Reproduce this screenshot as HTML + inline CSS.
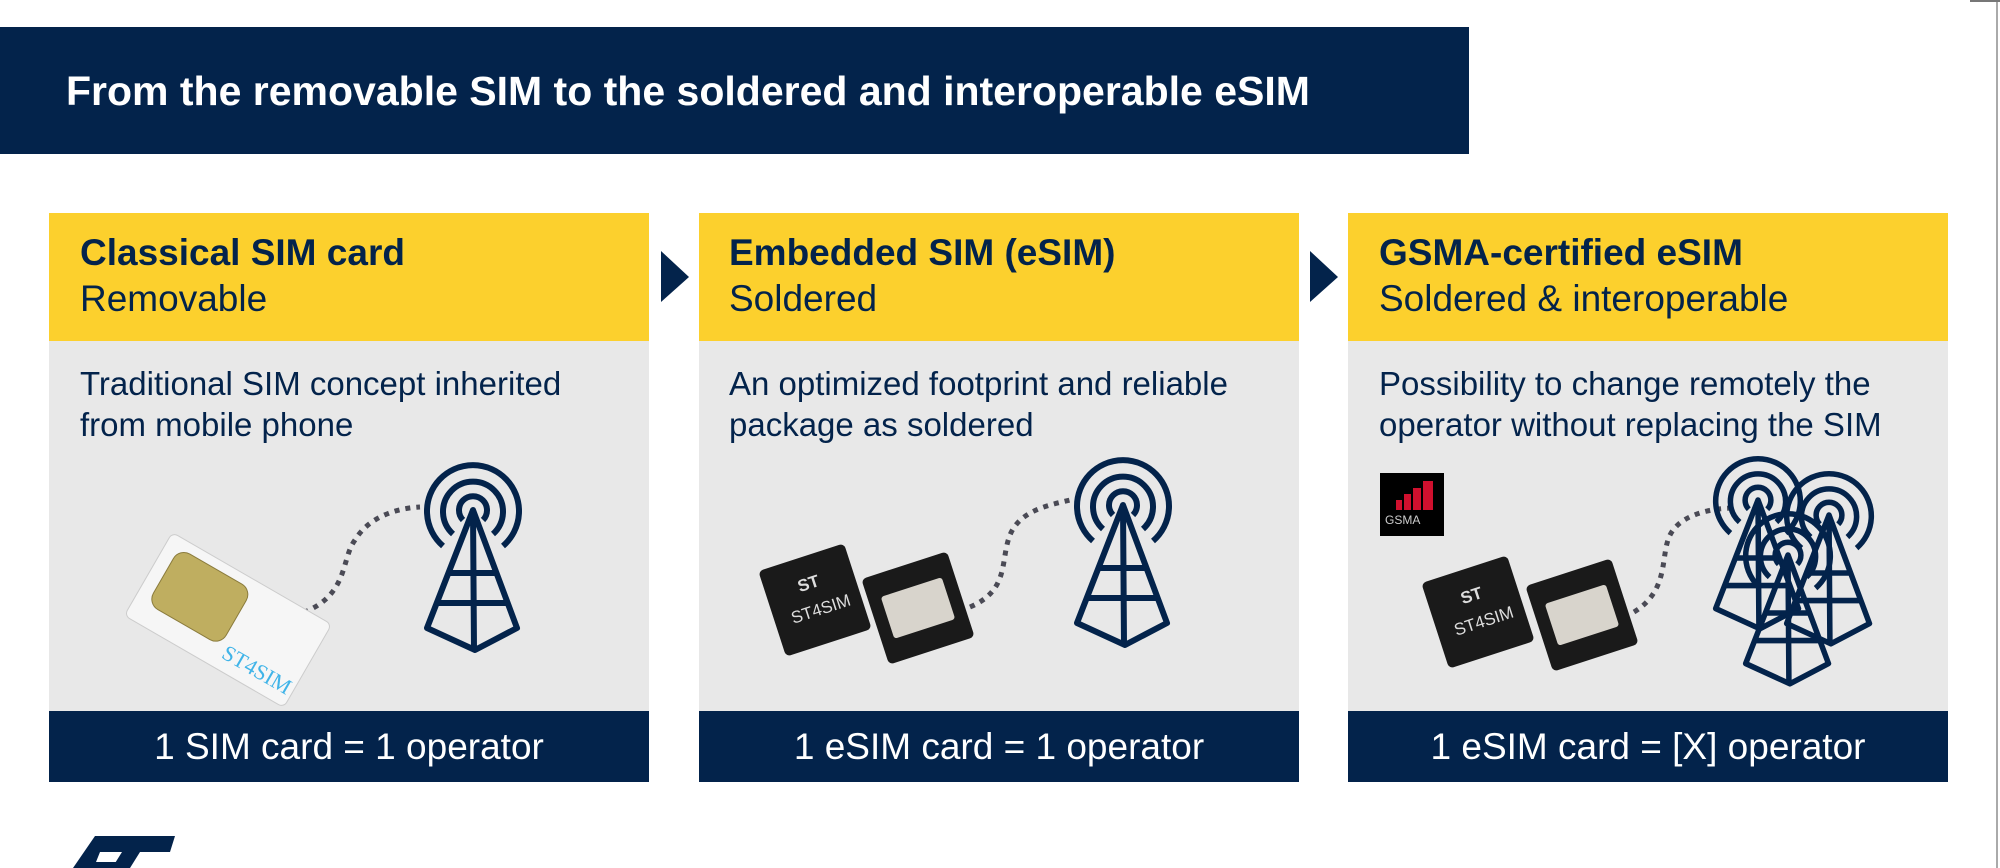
<!DOCTYPE html>
<html><head><meta charset="utf-8"><style>
html,body{margin:0;padding:0;width:2000px;height:868px;overflow:hidden;background:#fff;font-family:"Liberation Sans",Arial,sans-serif}
.abs{position:absolute}
.hdr{left:0;top:27px;width:1469px;height:127px;background:#03234b}
.ttl{left:66px;top:68px;color:#fff;font-weight:bold;font-size:41px;white-space:nowrap}
.y{background:#fcd02d;height:128px;top:213px;width:600px}
.g{background:#e8e8e8;top:341px;height:370px;width:600px}
.f{background:#03234b;top:711px;height:71px;width:600px;color:#fff;font-size:37px;text-align:center;line-height:71px}
.h{color:#03234b;font-size:37px;line-height:46px;white-space:nowrap}
.b{color:#03234b;font-size:33px;line-height:41px;white-space:nowrap}
</style></head><body>
<div class="abs hdr"></div>
<div class="abs ttl">From the removable SIM to the soldered and interoperable eSIM</div>
<div class="abs" style="left:1996px;top:0;width:2px;height:868px;background:#aaa"></div>
<div class="abs" style="left:1970px;top:0;width:30px;height:2px;background:#777"></div>

<div class="abs y" style="left:49px"></div><div class="abs g" style="left:49px"></div><div class="abs f" style="left:49px">1 SIM card = 1 operator</div>
<div class="abs y" style="left:699px"></div><div class="abs g" style="left:699px"></div><div class="abs f" style="left:699px">1 eSIM card = 1 operator</div>
<div class="abs y" style="left:1348px"></div><div class="abs g" style="left:1348px"></div><div class="abs f" style="left:1348px">1 eSIM card = [X] operator</div>

<div class="abs h" style="left:80px;top:230px"><b>Classical SIM card</b><br>Removable</div>
<div class="abs h" style="left:729px;top:230px"><b>Embedded SIM (eSIM)</b><br>Soldered</div>
<div class="abs h" style="left:1379px;top:230px"><b>GSMA-certified eSIM</b><br>Soldered &amp; interoperable</div>

<div class="abs b" style="left:80px;top:363px">Traditional SIM concept inherited<br>from mobile phone</div>
<div class="abs b" style="left:729px;top:363px">An optimized footprint and reliable<br>package as soldered</div>
<div class="abs b" style="left:1379px;top:363px">Possibility to change remotely the<br>operator without replacing the SIM</div>

<svg class="abs" style="left:0;top:0" width="2000" height="868" viewBox="0 0 2000 868">
<defs>
<g id="tw" fill="none" stroke="#03234b" stroke-width="6" stroke-linejoin="round">
<path d="M-10,10 A14,14 0 1 1 10,10"/>
<path d="M-20,24 A30,30 0 1 1 20,24"/>
<path d="M-30,36 A46,46 0 1 1 30,36"/>
<path d="M0,0 L-46,118 L2,140 L44,118 Z M0,0 L1,140 M-25,63 L23,63 M-37,93 L34,93" />
</g>
<g id="chip">
<rect x="-45" y="-45" width="90" height="90" rx="5" fill="#1a1a1a"/>
</g>
</defs>
<polygon points="661,251 689,277 661,302" fill="#03234b"/>
<polygon points="1310,251 1338,277 1310,302" fill="#03234b"/>
<!-- card1 -->
<path d="M293,616 C350,600 340,560 355,540 C370,515 400,508 420,507" fill="none" stroke="#4a4a55" stroke-width="5" stroke-dasharray="5 6"/>
<g transform="translate(228,620) rotate(30)">
<rect x="-92" y="-48" width="184" height="96" rx="6" fill="#f6f6f6" stroke="#ccc"/>
<rect x="-78" y="-38" width="84" height="64" rx="12" fill="#bfae60" stroke="#8a7b3c"/>
<text x="12" y="36" font-family="Liberation Serif,serif" font-size="22" fill="#40b4e8">ST4SIM</text>
</g>
<use href="#tw" transform="translate(473,510)"/>
<!-- card2 -->
<path d="M970,607 C1010,590 1000,560 1010,535 C1020,510 1050,505 1070,500" fill="none" stroke="#4a4a55" stroke-width="5" stroke-dasharray="5 6"/>
<g transform="translate(815,600) rotate(-18)"><use href="#chip"/><text x="-28" y="16" fill="#ddd" font-size="17">ST4SIM</text><text x="-12" y="-12" fill="#ddd" font-size="17" font-weight="bold">ST</text></g>
<g transform="translate(918,608) rotate(-18)"><use href="#chip"/><rect x="-32" y="-22" width="64" height="44" rx="3" fill="#d8d4cc"/></g>
<use href="#tw" transform="translate(1123,505)"/>
<!-- card3 -->
<rect x="1380" y="473" width="64" height="63" fill="#000"/>
<rect x="1396" y="500" width="6" height="10" fill="#d0102e"/><rect x="1404" y="494" width="7" height="16" fill="#d0102e"/><rect x="1413" y="488" width="8" height="22" fill="#d0102e"/><rect x="1423" y="481" width="10" height="29" fill="#d0102e"/>
<text x="1385" y="524" fill="#ccc" font-size="12">GSMA</text>
<path d="M1634,612 C1670,590 1660,555 1670,535 C1680,515 1710,508 1735,508" fill="none" stroke="#4a4a55" stroke-width="5" stroke-dasharray="5 6"/>
<g transform="translate(1478,612) rotate(-18)"><use href="#chip"/><text x="-28" y="16" fill="#ddd" font-size="17">ST4SIM</text><text x="-12" y="-12" fill="#ddd" font-size="17" font-weight="bold">ST</text></g>
<g transform="translate(1582,615) rotate(-18)"><use href="#chip"/><rect x="-32" y="-22" width="64" height="44" rx="3" fill="#d8d4cc"/></g>
<use href="#tw" transform="translate(1758,500) scale(0.92)"/>
<use href="#tw" transform="translate(1829,515) scale(0.92)"/>
<use href="#tw" transform="translate(1788,555) scale(0.92)"/>
<!-- ST logo -->
<path d="M95,836 L175,836 L170,852 L140,852 L130,868 L112,868 L122,852 L100,852 L96,862 L120,862 L118,868 L73,868 Z" fill="#03234b"/>
</svg>
</body></html>
